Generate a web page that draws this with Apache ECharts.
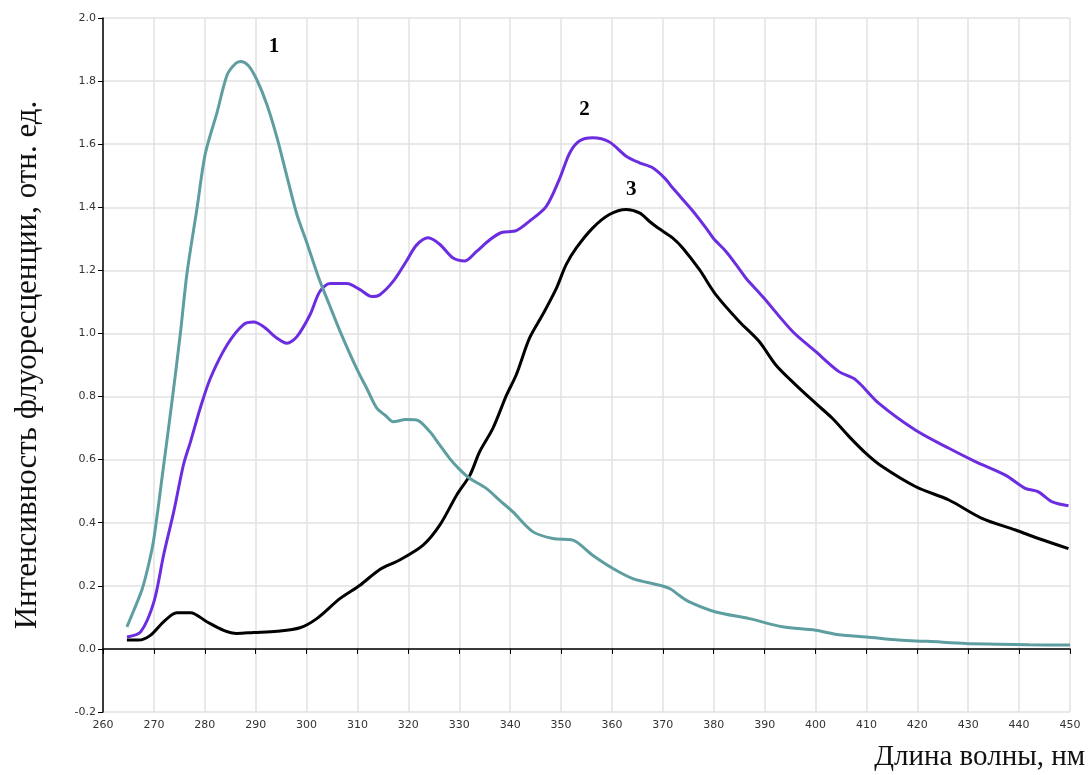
<!DOCTYPE html>
<html>
<head>
<meta charset="utf-8">
<script src="https://cdn.jsdelivr.net/npm/echarts@6/dist/echarts.min.js"></script>
<style>
  html, body { margin: 0; padding: 0; background: #ffffff; }
  #chart { width: 1089px; height: 775px; }
</style>
</head>
<body>
<div id="chart"></div>
<script>
// Fluorescence spectra, wavelength (nm) vs intensity (rel. units)
const wl1 = [264.7,266,267.7,269,270,271.9,273.6,275.2,276.5,278.5,280.1,282.4,284.4,286,287,288.5,290.2,292.2,294.2,296.1,298.1,300,302.3,304.5,306.6,309.8,312,313.8,315.5,317,319.5,321.6,324.2,326,328.1,330,332.1,335.3,338,340.5,344.5,348.4,352.3,356.2,360.2,364.1,369.3,371.5,373.2,375.2,380.4,387,393.5,400,404.6,410,416.4,422,429.5,436,442,450];
const int1 = [0.07,0.12,0.19,0.27,0.35,0.58,0.79,1.0,1.19,1.40,1.57,1.70,1.82,1.855,1.862,1.85,1.805,1.726,1.62,1.50,1.377,1.29,1.18,1.09,1.006,0.89,0.82,0.763,0.74,0.72,0.727,0.726,0.689,0.65,0.604,0.57,0.54,0.509,0.47,0.435,0.371,0.35,0.345,0.297,0.255,0.223,0.202,0.19,0.17,0.149,0.117,0.096,0.07,0.059,0.045,0.038,0.028,0.024,0.017,0.015,0.013,0.012];

const wl2 = [264.7,267.4,270,271.9,273.9,275.8,277.2,279.1,281.1,284.4,287.6,289.6,291.5,294.2,296.1,298.1,300.7,302.6,304.6,307.9,310.5,312.8,314.4,317,319.6,321.6,323.9,326.2,328.8,331.1,333.4,336,338.3,341.2,343.8,347.1,349.7,351.7,353.6,356.2,359.5,362.8,365.4,368,370.5,372,375.8,378.5,380,382.4,384.4,386.3,389.6,395.5,400,404.6,407.9,412.4,419.6,426.2,431.4,437.3,441.2,443.8,446.4,449.7];
const int2 = [0.038,0.054,0.149,0.297,0.435,0.583,0.657,0.763,0.858,0.964,1.028,1.036,1.022,0.985,0.969,0.99,1.06,1.133,1.158,1.158,1.139,1.117,1.123,1.165,1.229,1.28,1.303,1.282,1.239,1.23,1.26,1.297,1.32,1.326,1.356,1.403,1.49,1.572,1.61,1.62,1.607,1.562,1.541,1.525,1.49,1.46,1.39,1.334,1.30,1.26,1.218,1.176,1.117,1.006,0.943,0.879,0.853,0.779,0.694,0.636,0.594,0.551,0.509,0.498,0.467,0.454];

const wl3 = [264.7,267,269.3,271.9,274.5,277.2,280.4,283.7,286.3,289.6,294.2,298.7,302,306.6,310.5,314.4,318.3,322.9,326.2,329.5,332.1,334,336.6,339.3,341.2,343.8,346.4,349.1,351,353,356.2,359.5,362.8,365.4,367.4,369,371.9,373.9,377.2,380.4,385,388.9,392.2,396.1,400,403.3,406.6,409.9,413.1,419.7,426.2,432.7,439.3,443.8,449.7];
const int3 = [0.028,0.028,0.043,0.086,0.115,0.115,0.086,0.059,0.049,0.052,0.056,0.067,0.096,0.16,0.202,0.252,0.282,0.329,0.393,0.488,0.551,0.625,0.699,0.805,0.869,0.985,1.06,1.144,1.218,1.271,1.334,1.377,1.393,1.382,1.355,1.335,1.303,1.271,1.202,1.123,1.038,0.975,0.90,0.837,0.779,0.731,0.673,0.62,0.578,0.514,0.472,0.414,0.377,0.35,0.318];

// Curve numbers and where they sit (wavelength, intensity)
const curveNames = ['1', '2', '3'];
const curveLabelPos = [[293.6, 1.91], [354.6, 1.71], [363.8, 1.457]];
const curveColors = ['#5f9ea0', '#6c2de0', '#000000'];

const xTitle = 'Длина волны, нм';
const yTitle = 'Интенсивность флуоресценции, отн. ед.';

function pairs(xs, ys) { return xs.map((x, i) => [x, ys[i]]); }
const spectra = [pairs(wl1, int1), pairs(wl2, int2), pairs(wl3, int3)];

const chart = echarts.init(document.getElementById('chart'), null, { renderer: 'canvas' });

const series = spectra.map((data, i) => ({
  name: curveNames[i],
  type: 'line',
  data: data,
  showSymbol: false,
  smooth: 0.3,
  lineStyle: { color: curveColors[i], width: 3 },
  itemStyle: { color: curveColors[i] },
  z: 3 - i,
  markPoint: {
    symbol: 'circle',
    symbolSize: 1,
    itemStyle: { color: 'rgba(0,0,0,0)' },
    label: {
      show: true,
      position: 'inside',
      formatter: curveNames[i],
      color: '#000',
      fontFamily: 'Liberation Serif',
      fontWeight: 'bold',
      fontSize: 21
    },
    data: [{ coord: curveLabelPos[i] }]
  }
}));

chart.setOption({
  animation: false,
  backgroundColor: '#ffffff',
  grid: { left: 103, right: 19, top: 18, bottom: 63 },
  xAxis: {
    type: 'value',
    min: 260,
    max: 450,
    interval: 10,
    axisLine: { show: true, lineStyle: { color: '#000', width: 1.5 } },
    axisTick: { show: true, length: 5, lineStyle: { color: '#000' } },
    axisLabel: { color: '#333', fontFamily: 'DejaVu Sans', fontSize: 11, margin: 8 },
    splitLine: { show: true, lineStyle: { color: '#e2e2e2', width: 1.5 } }
  },
  yAxis: {
    type: 'value',
    min: -0.2,
    max: 2.0,
    interval: 0.2,
    name: yTitle,
    nameLocation: 'middle',
    nameGap: 60,
    nameTextStyle: { color: '#111', fontFamily: 'Liberation Serif', fontSize: 31 },
    axisLine: { show: true, lineStyle: { color: '#000', width: 1.5 } },
    axisTick: { show: true, length: 5, lineStyle: { color: '#000' } },
    axisLabel: {
      color: '#333', fontFamily: 'DejaVu Sans', fontSize: 11, margin: 7,
      formatter: v => v.toFixed(1)
    },
    splitLine: { show: true, lineStyle: { color: '#e2e2e2', width: 1.5 } }
  },
  graphic: [{
    type: 'text',
    right: 4,
    top: 743,
    style: { text: xTitle, fill: '#111', font: '29px "Liberation Serif"' }
  }],
  series: series
});
</script>
</body>
</html>
